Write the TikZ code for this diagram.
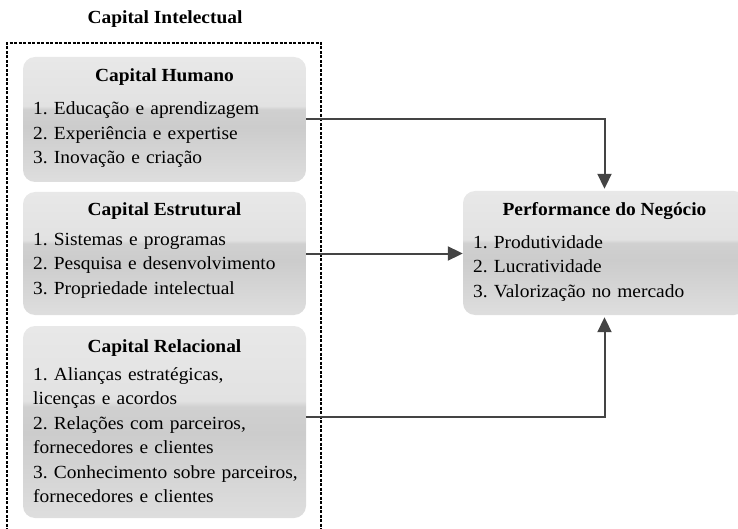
\documentclass[tikz,border=0pt]{standalone}
\usepackage{fontspec}
\setmainfont{Liberation Serif}[FakeStretch=1.05]
\usetikzlibrary{arrows.meta}

\definecolor{gTop}{HTML}{E8E8E8}
\definecolor{gUp}{HTML}{E2E2E2}
\definecolor{gDark}{HTML}{D0D0D0}
\definecolor{gMid}{HTML}{CCCCCC}
\definecolor{gBot}{HTML}{DEDEDE}
\definecolor{linkgray}{HTML}{444444}

% glossy grey fill: light upper half, darker band below the middle
\pgfdeclareverticalshading{glossy}{100bp}{%
  color(0bp)=(gBot); color(25bp)=(gBot); color(47bp)=(gMid);
  color(54bp)=(gDark); color(55.5bp)=(gUp); color(75bp)=(gTop); color(100bp)=(gTop)}

\begin{document}
\begin{tikzpicture}[x=1pt,y=-1pt,
  cbox/.style={rounded corners=12pt, shading=glossy, minimum width=283pt, inner sep=0pt},
  head/.style={font=\frenchspacing\bfseries\fontsize{18.5}{24.5}\selectfont, anchor=base, inner sep=0pt},
  items/.style={font=\frenchspacing\fontsize{18.5}{24.5}\selectfont, anchor=base west, align=left,
                text width=290pt, inner sep=0pt},
  frame/.style={draw=black, line width=1.7pt, dash pattern=on 3pt off 1.5pt},
  link/.style={draw=linkgray, line width=2pt, -{Triangle[length=15pt,width=14pt]}}
]
\useasboundingbox (0,0) rectangle (738,529);

% group title and dotted frame
\node[head] (title) at (165,24) {Capital Intelectual};
\draw[frame] (7,540) |- (321,43) -- (321,540);

% capital boxes
\node[cbox, minimum height=125pt] (hum) at (164.5,119.5) {};
\node[head] (humT) at (164.5,82) {Capital Humano};
\node[items] (humL) at (33,115) {1. Educação e aprendizagem\\2. Experiência e expertise\\3. Inovação e criação};

\node[cbox, minimum height=123pt] (est) at (164.5,253.5) {};
\node[head] (estT) at (164.5,216) {Capital Estrutural};
\node[items] (estL) at (33,245) {1. Sistemas e programas\\2. Pesquisa e desenvolvimento\\3. Propriedade intelectual};

\node[cbox, minimum height=192pt] (rel) at (164.5,422) {};
\node[head] (relT) at (164.5,352) {Capital Relacional};
\node[items] (relL) at (33,380) {1. Alianças estratégicas,\\licenças e acordos\\2. Relações com parceiros,\\fornecedores e clientes\\3. Conhecimento sobre parceiros,\\fornecedores e clientes};

% outcome box
\node[cbox, minimum height=124pt] (perf) at (604.5,253) {};
\node[head] (perfT) at (604.5,216) {Performance do Negócio};
\node[items] (perfL) at (473,248) {1. Produtividade\\2. Lucratividade\\3. Valorização no mercado};

% connectors
\draw[link, shorten >=2pt] (hum.east) -| (perf.north);
\draw[link] (est.east) -- (est.east -| perf.west);
\draw[link, shorten >=2pt] ([yshift=5pt]rel.east) -| (perf.south);
\end{tikzpicture}
\end{document}
